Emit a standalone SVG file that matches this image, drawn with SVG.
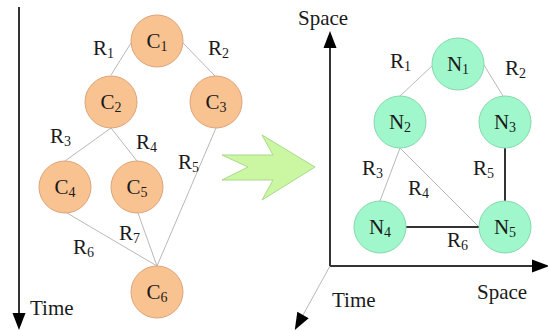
<svg xmlns="http://www.w3.org/2000/svg" width="548" height="331" viewBox="0 0 548 331">
<style>
text{font-family:"Liberation Serif","Times New Roman",Times,"DejaVu Serif",serif;font-size:21px;fill:#1a1a1a}
.sub{font-size:14px}
.c{fill:#f9c391;stroke:#dca47a;stroke-width:1}
.n{fill:#9ff7cb;stroke:#86d8ae;stroke-width:1}
.thin{stroke:#b8b8b8;stroke-width:1;fill:none}
.dark{stroke:#333;stroke-width:2;fill:none}
.ax{stroke:#333;stroke-width:2;fill:none}
</style>
<defs>
<marker id="ah" markerUnits="userSpaceOnUse" markerWidth="18" markerHeight="14" refX="0" refY="6.5" orient="auto" overflow="visible">
<path d="M0,0 L17,6.5 L0,13 Z" fill="#000"/>
</marker>
</defs>
<rect width="548" height="331" fill="#fff"/>
<g id="axes">
<line class="ax" x1="19" y1="7" x2="19" y2="313" marker-end="url(#ah)"/>
<line class="ax" x1="330" y1="266" x2="330" y2="48" marker-end="url(#ah)"/>
<line class="ax" x1="330" y1="266" x2="532" y2="266" marker-end="url(#ah)"/>
<line class="thin" x1="330" y1="266" x2="303" y2="315" marker-end="url(#ah)"/>
</g>
<g id="connectors">
<line class="thin" x1="131" y1="43" x2="111" y2="75"/>
<line class="thin" x1="183" y1="43" x2="215" y2="76"/>
<line class="thin" x1="111" y1="128" x2="65" y2="161"/>
<line class="thin" x1="111" y1="128" x2="137" y2="161"/>
<line class="thin" x1="216" y1="128" x2="157" y2="266"/>
<line class="thin" x1="67" y1="213" x2="157" y2="266"/>
<line class="thin" x1="138" y1="213" x2="157" y2="266"/>
<line class="thin" x1="433" y1="65" x2="400" y2="96"/>
<line class="thin" x1="484" y1="65" x2="503" y2="96"/>
<line class="thin" x1="400" y1="148" x2="380" y2="201"/>
<line class="thin" x1="400" y1="148" x2="479" y2="227"/>
<line class="dark" x1="505" y1="148" x2="505" y2="201"/>
<line class="dark" x1="406" y1="227" x2="479" y2="227"/>
</g>
<g id="C1"><circle class="c" cx="157" cy="41" r="26"/><text x="157" y="48" text-anchor="middle">C<tspan class="sub" dy="3">1</tspan></text></g>
<g id="C2"><circle class="c" cx="111" cy="102" r="26"/><text x="111" y="109" text-anchor="middle">C<tspan class="sub" dy="3">2</tspan></text></g>
<g id="C3"><circle class="c" cx="216" cy="102" r="26"/><text x="216" y="109" text-anchor="middle">C<tspan class="sub" dy="3">3</tspan></text></g>
<g id="C4"><circle class="c" cx="65" cy="187" r="26"/><text x="65" y="194" text-anchor="middle">C<tspan class="sub" dy="3">4</tspan></text></g>
<g id="C5"><circle class="c" cx="137" cy="187" r="26"/><text x="137" y="194" text-anchor="middle">C<tspan class="sub" dy="3">5</tspan></text></g>
<g id="C6"><circle class="c" cx="157" cy="292" r="26"/><text x="157" y="299" text-anchor="middle">C<tspan class="sub" dy="3">6</tspan></text></g>
<g id="N1"><circle class="n" cx="458" cy="64" r="26"/><text x="458" y="71" text-anchor="middle">N<tspan class="sub" dy="3">1</tspan></text></g>
<g id="N2"><circle class="n" cx="400" cy="122" r="26"/><text x="400" y="129" text-anchor="middle">N<tspan class="sub" dy="3">2</tspan></text></g>
<g id="N3"><circle class="n" cx="505" cy="122" r="26"/><text x="505" y="129" text-anchor="middle">N<tspan class="sub" dy="3">3</tspan></text></g>
<g id="N4"><circle class="n" cx="380" cy="227" r="26"/><text x="380" y="234" text-anchor="middle">N<tspan class="sub" dy="3">4</tspan></text></g>
<g id="N5"><circle class="n" cx="505" cy="227" r="26"/><text x="505" y="234" text-anchor="middle">N<tspan class="sub" dy="3">5</tspan></text></g>
<g id="transform-arrow">
<polygon points="222,155 273,155 262,135 315,167 262,200 273,180 222,180 248,167" fill="#ccf7a2" stroke="#a9d98c" stroke-width="1"/>
</g>
<g id="labels">
<text x="93" y="55">R<tspan class="sub" dy="3">1</tspan></text>
<text x="208" y="55">R<tspan class="sub" dy="3">2</tspan></text>
<text x="50" y="143">R<tspan class="sub" dy="3">3</tspan></text>
<text x="136" y="149">R<tspan class="sub" dy="3">4</tspan></text>
<text x="178" y="169">R<tspan class="sub" dy="3">5</tspan></text>
<text x="73" y="254">R<tspan class="sub" dy="3">6</tspan></text>
<text x="119" y="240">R<tspan class="sub" dy="3">7</tspan></text>
<text x="30" y="315">Time</text>
<text x="390" y="68">R<tspan class="sub" dy="3">1</tspan></text>
<text x="505" y="75">R<tspan class="sub" dy="3">2</tspan></text>
<text x="362" y="175">R<tspan class="sub" dy="3">3</tspan></text>
<text x="408" y="195">R<tspan class="sub" dy="3">4</tspan></text>
<text x="473" y="175">R<tspan class="sub" dy="3">5</tspan></text>
<text x="447" y="247">R<tspan class="sub" dy="3">6</tspan></text>
<text x="298" y="25">Space</text>
<text x="332" y="307">Time</text>
<text x="477" y="299">Space</text>
</g>
</svg>
